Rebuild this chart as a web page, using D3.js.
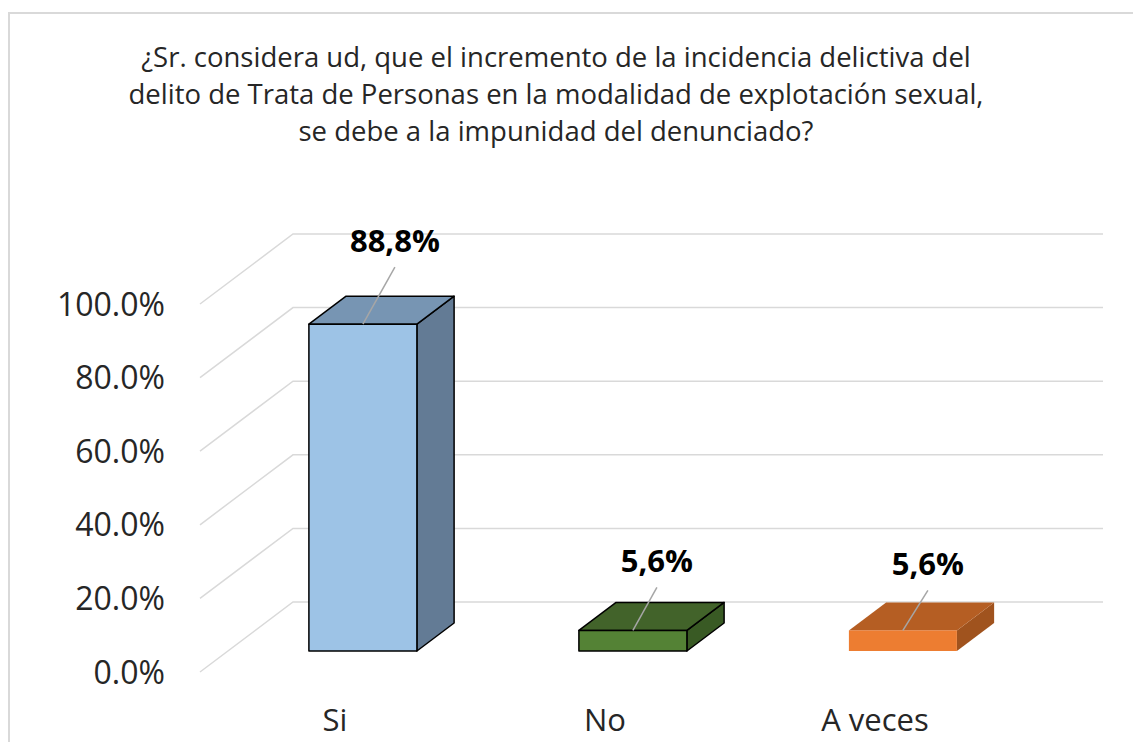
<!DOCTYPE html>
<html>
<head>
<meta charset="utf-8">
<script src="https://cdn.jsdelivr.net/npm/d3@7"></script>
<style>
  body { margin: 0; background: #fff; }
  text { font-family: "Open Sans", sans-serif; fill: #262626; }
</style>
</head>
<body>
<div id="chart"></div>
<script>
// data
const categories = ['Si', 'No', 'A veces'];
const values = [0.888, 0.056, 0.056];
const yTicks = [0, 0.2, 0.4, 0.6, 0.8, 1.0];
const titleLines = [
  '¿Sr. considera ud, que el incremento de la incidencia delictiva del',
  'delito de Trata de Personas en la modalidad de explotación sexual,',
  'se debe a la impunidad del denunciado?'
];

// colours per bar: front, top, side
const faceColors = [
  ['#9DC3E6', '#7795B3', '#637B95'],
  ['#548235', '#42632A', '#395A24'],
  ['#ED7D31', '#B55E23', '#A0531E']
];
const outlined = [true, true, false];
// hand placed leader lines in the original (dx, dy from top of bar)
const leaderOffsets = [[32, -57], [24, -43], [25, -40]];

const width = 1133, height = 742;
const depth = { x: 93, y: -70 };     // full depth of the 3d box
const bar = { z0: 0.3, z1: 0.7 };    // bars sit in the middle of the depth

const svg = d3.select('#chart')
    .append('svg')
    .attr('width', width)
    .attr('height', height);

// chart border
svg.append('rect')
    .attr('x', 9).attr('y', 13)
    .attr('width', 1140).attr('height', 760)
    .attr('fill', 'none')
    .attr('stroke', '#D9D9D9')
    .attr('stroke-width', 2);

// title
svg.append('text')
    .attr('text-anchor', 'middle')
    .attr('font-size', 27.5)
    .selectAll('tspan')
    .data(titleLines)
    .join('tspan')
    .attr('x', 556)
    .attr('y', (d, i) => 67 + i * 37)
    .text(d => d);

const x = d3.scaleBand()
    .domain(categories)
    .range([200, 1010])
    .paddingInner(0.6)
    .paddingOuter(0.3);

const y = d3.scaleLinear()
    .domain([0, 1])
    .range([672, 304]);

// gridlines: floor/side diagonal + back wall
const grid = svg.append('g')
    .attr('stroke', '#D9D9D9')
    .attr('stroke-width', 1.5)
    .attr('fill', 'none');

grid.selectAll('path')
    .data(yTicks)
    .join('path')
    .attr('d', d => {
      const x0 = x.range()[0], x1 = x.range()[1];
      return `M${x0},${y(d)} L${x0 + depth.x},${y(d) + depth.y} L${x1 + depth.x},${y(d) + depth.y}`;
    });

// y axis labels
const fmtTick = d3.format('.1%');
svg.append('g')
    .selectAll('text')
    .data(yTicks)
    .join('text')
    .attr('x', 165)
    .attr('y', d => y(d))
    .attr('dy', '0.36em')
    .attr('text-anchor', 'end')
    .attr('font-size', 32)
    .text(d => fmtTick(d));

// x axis labels
svg.append('g')
    .selectAll('text')
    .data(categories)
    .join('text')
    .attr('x', d => x(d) + x.bandwidth() / 2)
    .attr('y', 731)
    .attr('text-anchor', 'middle')
    .attr('font-size', 31)
    .text(d => d);

// bars
const bw = x.bandwidth();
const dz = bar.z1 - bar.z0;
const bars = svg.append('g')
    .selectAll('g')
    .data(values)
    .join('g')
    .attr('stroke', (d, i) => outlined[i] ? '#000' : 'none')
    .attr('stroke-width', 1.5)
    .attr('stroke-linejoin', 'round');

function corners(v, i) {
  const x0 = x(categories[i]) + bar.z0 * depth.x;
  const yb = y(0) + bar.z0 * depth.y;
  const yt = y(v) + bar.z0 * depth.y;
  return { x0, x1: x0 + bw, yb, yt, dx: dz * depth.x, dy: dz * depth.y };
}

bars.append('path') // side
    .attr('fill', (d, i) => faceColors[i][2])
    .attr('d', (d, i) => {
      const c = corners(d, i);
      return `M${c.x1},${c.yt} L${c.x1 + c.dx},${c.yt + c.dy} L${c.x1 + c.dx},${c.yb + c.dy} L${c.x1},${c.yb} Z`;
    });

bars.append('path') // top
    .attr('fill', (d, i) => faceColors[i][1])
    .attr('d', (d, i) => {
      const c = corners(d, i);
      return `M${c.x0},${c.yt} L${c.x1},${c.yt} L${c.x1 + c.dx},${c.yt + c.dy} L${c.x0 + c.dx},${c.yt + c.dy} Z`;
    });

bars.append('rect') // front
    .attr('fill', (d, i) => faceColors[i][0])
    .attr('x', (d, i) => corners(d, i).x0)
    .attr('y', (d, i) => corners(d, i).yt)
    .attr('width', bw)
    .attr('height', (d, i) => corners(d, i).yb - corners(d, i).yt);

// data labels with leader lines
const fmtLabel = d3.formatLocale({ decimal: ',', thousands: '.', grouping: [3], currency: ['', ''] }).format('.1%');
const labels = svg.append('g')
    .selectAll('g')
    .data(values)
    .join('g');

labels.append('line')
    .attr('stroke', '#A6A6A6')
    .attr('stroke-width', 1.5)
    .attr('x1', (d, i) => corners(d, i).x0 + bw / 2)
    .attr('y1', (d, i) => corners(d, i).yt)
    .attr('x2', (d, i) => corners(d, i).x0 + bw / 2 + leaderOffsets[i][0])
    .attr('y2', (d, i) => corners(d, i).yt + leaderOffsets[i][1]);

labels.append('text')
    .attr('x', (d, i) => corners(d, i).x0 + bw / 2 + leaderOffsets[i][0])
    .attr('y', (d, i) => corners(d, i).yt + leaderOffsets[i][1] - 15)
    .attr('text-anchor', 'middle')
    .attr('font-size', 31)
    .attr('font-weight', 'bold')
    .style('fill', '#000')
    .text(d => fmtLabel(d));
</script>
</body>
</html>
